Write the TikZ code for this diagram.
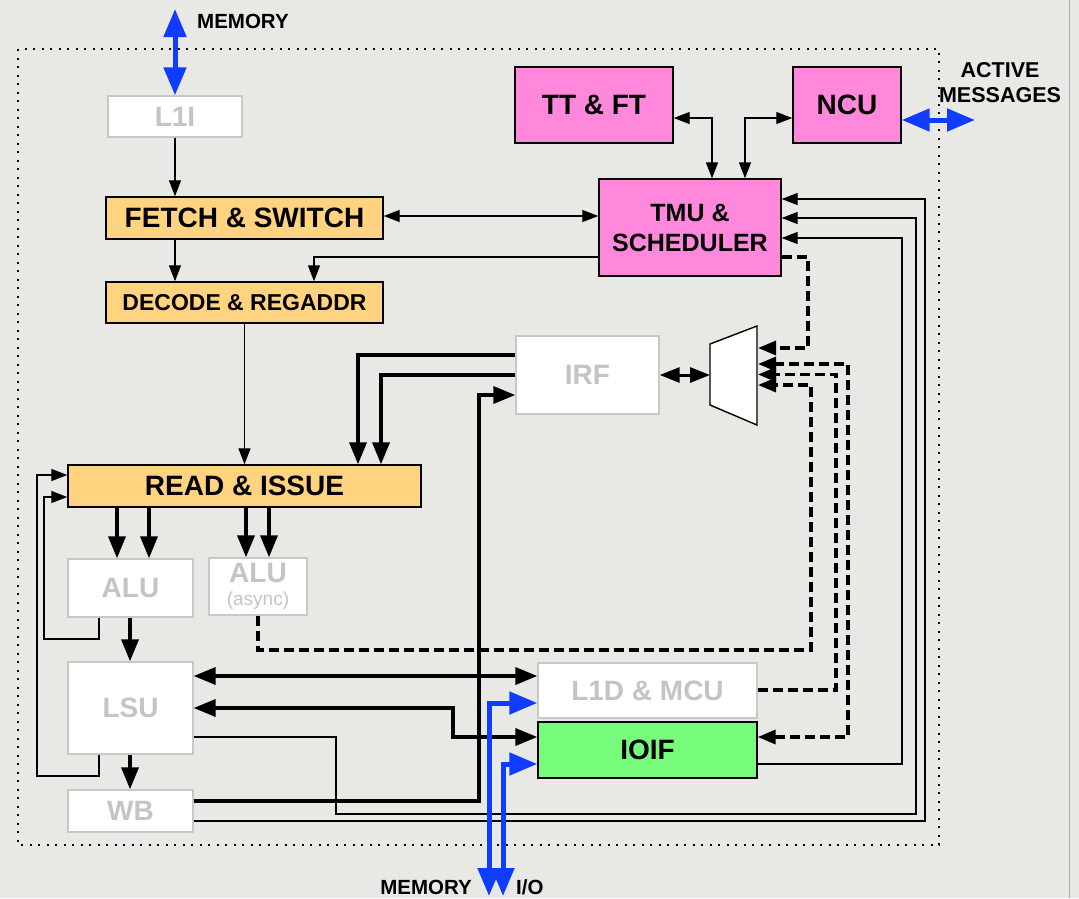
\documentclass[tikz,border=0pt]{standalone}
\usepackage{fontspec}
\setmainfont{Liberation Sans}
\usetikzlibrary{arrows.meta}
\definecolor{bg}{RGB}{232,232,229}
\definecolor{orng}{RGB}{255,211,128}
\definecolor{pnk}{RGB}{255,136,220}
\definecolor{grn}{RGB}{119,251,122}
\definecolor{lgray}{RGB}{196,196,196}
\definecolor{bgray}{RGB}{200,200,200}
\definecolor{blu}{RGB}{15,60,255}
\begin{document}
\begin{tikzpicture}[x=1pt,y=-1pt,
  box/.style={draw=black, line width=1.4pt, inner sep=0pt, font=\bfseries\fontsize{28}{30}\selectfont},
  wbox/.style={box, draw=bgray, fill=white, text=lgray},
  obox/.style={box, fill=orng},
  pbox/.style={box, fill=pnk},
  gbox/.style={box, fill=grn},
  lbl/.style={font=\bfseries\fontsize{20.5}{24}\selectfont, inner sep=0pt},
  thinarr/.style={line width=1.3pt, -{Triangle[length=16pt,width=12pt]}},
  thinboth/.style={line width=1.3pt, {Triangle[length=16pt,width=12pt]}-{Triangle[length=16pt,width=12pt]}},
  thickarr/.style={line width=3.6pt, -{Triangle[length=22pt,width=17pt]}},
  thickboth/.style={line width=3.6pt, {Triangle[length=22pt,width=17pt]}-{Triangle[length=22pt,width=17pt]}},
  medboth/.style={line width=3pt, {Triangle[length=20pt,width=15pt]}-{Triangle[length=20pt,width=15pt]}},
  dasharr/.style={line width=3.3pt, dash pattern=on 10pt off 5pt, -{Triangle[length=18pt,width=14pt]}},
  dashboth/.style={line width=3.3pt, dash pattern=on 10pt off 5pt, {Triangle[length=18pt,width=14pt]}-{Triangle[length=18pt,width=14pt]}},
  bluearr/.style={draw=blu, line width=5pt, {Triangle[length=28pt,width=22pt]}-{Triangle[length=28pt,width=22pt]}},
]
\useasboundingbox (0,0) rectangle (1079,898);
\fill[bg] (0,0) rectangle (1079,898);
\draw[gray!70, line width=0.8pt] (1069,0) -- (1069,898);

% dotted frame
\draw[line width=1.5pt, dash pattern=on 2pt off 6.5pt] (18,49) rectangle (939,845);

% nodes
\node[wbox, minimum width=134pt, minimum height=41pt] (l1i) at (175,116.5) {L1I};
\node[obox, minimum width=277pt, minimum height=42pt] (fetch) at (244.5,218) {FETCH \& SWITCH};
\node[obox, minimum width=277pt, minimum height=41pt, font=\bfseries\fontsize{23}{26}\selectfont] (decode) at (244.5,302.5) {DECODE \& REGADDR};
\node[obox, minimum width=353pt, minimum height=42pt] (read) at (244.5,486) {READ \& ISSUE};
\node[wbox, minimum width=125pt, minimum height=58pt] (alu) at (130.5,588) {ALU};
\node[wbox, minimum width=98pt, minimum height=57pt, align=center] (alua) at (258,586.5) {ALU\\[-7pt]{\mdseries\fontsize{19}{30}\selectfont(async)}};
\node[wbox, minimum width=125pt, minimum height=92pt] (lsu) at (130.5,708) {LSU};
\node[wbox, minimum width=125pt, minimum height=42pt] (wb) at (130.5,811) {WB};
\node[wbox, minimum width=143pt, minimum height=78pt] (irf) at (587.5,375) {IRF};
\node[wbox, minimum width=219pt, minimum height=55pt] (l1d) at (647.5,690.5) {L1D \& MCU};
\node[gbox, minimum width=219pt, minimum height=56pt] (ioif) at (647.5,750) {IOIF};
\node[pbox, minimum width=158pt, minimum height=76pt] (ttft) at (594,105) {TT \& FT};
\node[pbox, minimum width=108pt, minimum height=76pt] (ncu) at (847,105) {NCU};
\node[pbox, minimum width=182pt, minimum height=97pt, align=center, font=\bfseries\fontsize{25}{30}\selectfont] (tmu) at (690,227.5) {TMU \&\\SCHEDULER};

% mux
\draw[line width=1.4pt, fill=white] (710,344) -- (757,326) -- (757,425) -- (710,405) -- cycle;
\coordinate (muxW) at (710,375);
\coordinate (mi1) at (758,348);
\coordinate (mi2) at (758,364);
\coordinate (mi3) at (758,374.5);
\coordinate (mi4) at (758,385);

% labels
\node[lbl, anchor=west] (memtxt) at (197,21) {MEMORY};
\node[lbl, align=center, font=\bfseries\fontsize{21.5}{25}\selectfont] (amtxt) at (1000,83) {ACTIVE\\MESSAGES};
\node[lbl, anchor=east] (membtxt) at (472,887) {MEMORY};
\node[lbl, anchor=west] (iotxt) at (516,887) {I/O};
\coordinate (memtop) at (175,9);
\coordinate (amend) at (975,120);
\coordinate (membot) at (489,896);
\coordinate (iobot) at (503,896);

% thin connectors
\draw[thinarr] (l1i.south) -- (l1i.south |- fetch.north);
\draw[thinarr] (fetch.south -| l1i.south) -- (decode.north -| l1i.south);
\draw[thinarr] (tmu.west |- 0,257) -- (314,257) -- (decode.north -| 314,0);
\draw[thinboth] (fetch.east |- 0,216) -- (tmu.west |- 0,216);
\draw[thinboth] (ttft.east |- 0,118) -- (712,118) -- (tmu.north -| 712,0);
\draw[thinboth] (ncu.west |- 0,118) -- (745,118) -- (tmu.north -| 745,0);
\draw[thinarr] (decode.south) -- (decode.south |- read.north);
\draw[thinarr] (wb.east |- 0,821) -- (925,821) -- (925,199) -- (tmu.east |- 0,199);
\draw[thinarr] (lsu.east |- 0,737) -- (336,737) -- (336,814) -- (916,814) -- (916,218) -- (tmu.east |- 0,218);
\draw[thinarr] (ioif.east |- 0,764) -- (902,764) -- (902,238) -- (tmu.east |- 0,238);
\draw[thinarr] (alu.south -| 99,0) -- (99,639) -- (44,639) -- (44,497) -- (read.west |- 0,497);
\draw[thinarr] (lsu.south -| 99,0) -- (99,776) -- (37,776) -- (37,475) -- (read.west |- 0,475);

% dashed connectors
\draw[dasharr] (tmu.east |- 0,257) -- (808,257) -- (808,348) -- (mi1);
\draw[dasharr] (alua.south) -- (258,650) -- (811,650) -- (811,385) -- (mi4);
\draw[dasharr] (l1d.east |- 0,690) -- (836,690) -- (836,374.5) -- (mi3);
\draw[dashboth] (ioif.east |- 0,737) -- (848,737) -- (848,364) -- (mi2);

% thick connectors
\draw[medboth] (irf.east) -- (muxW);
\draw[thickarr] (irf.west |- 0,355) -- (358,355) -- (read.north -| 358,0);
\draw[thickarr] (irf.west |- 0,375) -- (381,375) -- (read.north -| 381,0);
\draw[thickarr] (wb.east |- 0,801) -- (479,801) -- (479,395) -- (irf.west |- 0,395);
\draw[thickarr] (read.south -| 117,0) -- (alu.north -| 117,0);
\draw[thickarr] (read.south -| 149,0) -- (alu.north -| 149,0);
\draw[thickarr] (read.south -| 246,0) -- (alua.north -| 246,0);
\draw[thickarr] (read.south -| 269,0) -- (alua.north -| 269,0);
\draw[thickarr] (alu.south -| 130,0) -- (lsu.north -| 130,0);
\draw[thickarr] (lsu.south -| 130,0) -- (wb.north -| 130,0);
\draw[thickboth] (lsu.east |- 0,676) -- (l1d.west |- 0,676);
\draw[thickboth] (lsu.east |- 0,708) -- (453,708) -- (453,737) -- (ioif.west |- 0,737);

% blue connectors
\draw[bluearr] (memtop) -- (l1i.north);
\draw[bluearr] (ncu.east |- 0,120) -- (amend);
\draw[bluearr] (membot) -- (489,703) -- (l1d.west |- 0,703);
\draw[bluearr] (iobot) -- (503,764) -- (ioif.west |- 0,764);
\end{tikzpicture}
\end{document}
